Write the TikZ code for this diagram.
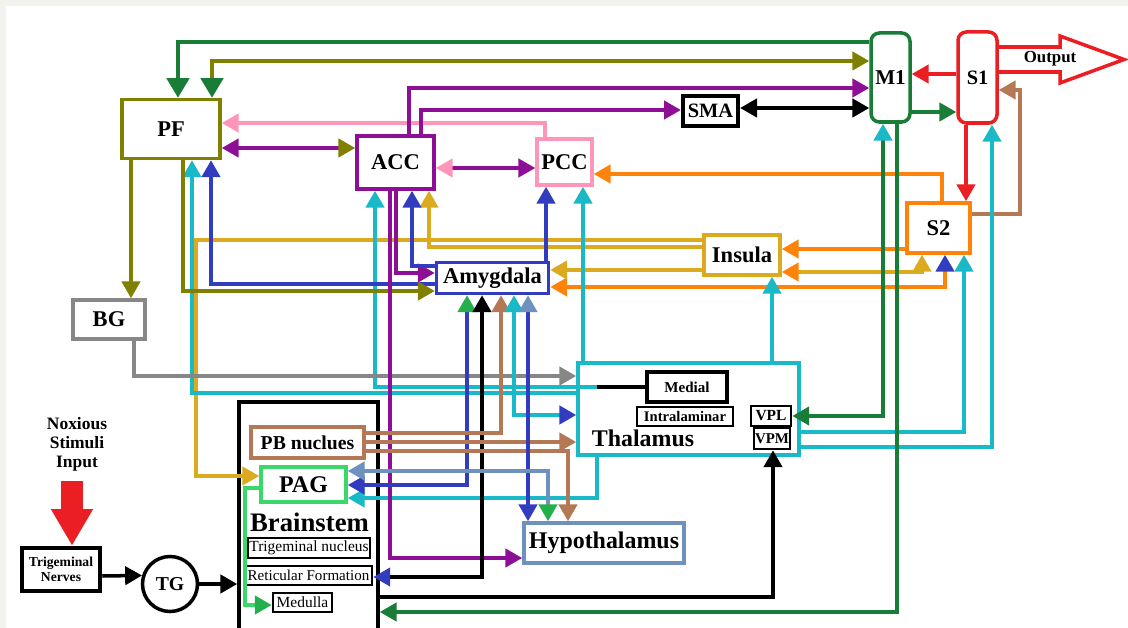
\documentclass[tikz,border=0pt]{standalone}
\usepackage{fontspec}
\setmainfont{Liberation Serif}
\usetikzlibrary{arrows.meta,positioning,shapes.geometric}
\definecolor{bgc}{RGB}{242,242,238}
\definecolor{dkgreen}{RGB}{25,125,55}
\definecolor{olivec}{RGB}{128,128,0}
\definecolor{purp}{RGB}{140,15,150}
\definecolor{pinkc}{RGB}{255,150,185}
\definecolor{bluec}{RGB}{50,60,190}
\definecolor{cyanc}{RGB}{25,185,200}
\definecolor{goldc}{RGB}{220,170,30}
\definecolor{orangec}{RGB}{255,130,10}
\definecolor{redc}{RGB}{235,30,35}
\definecolor{brownc}{RGB}{180,120,85}
\definecolor{grayc}{RGB}{135,135,135}
\definecolor{lgreen}{RGB}{35,175,75}
\definecolor{pagc}{RGB}{60,215,105}
\definecolor{steel}{RGB}{110,145,190}

\begin{document}
\begin{tikzpicture}[
  x=0.025cm, y=-0.025cm,
  line width=2.5pt,
  tri/.tip={Triangle[length=12pt,width=13pt]},
  region/.style={draw,fill=white,line width=2.5pt,inner sep=0pt,
                 font=\bfseries\fontsize{16}{18}\selectfont},
  part/.style={draw=black,fill=white,line width=1.9pt,inner sep=0pt,
               font=\fontsize{11}{12}\selectfont}
]
  \useasboundingbox (0,0) rectangle (1128,628);
  \fill[bgc] (0,0) rectangle (1128,628);
  \fill[white] (6,6) rectangle (1128,628);

  \node[region,draw=olivec,minimum width=2.45cm,minimum height=1.475cm] (PF) at (171,129) {PF};
  \node[region,draw=grayc,minimum width=1.8cm,minimum height=0.975cm] (BG) at (109,319.5) {BG};
  \node[region,draw=purp,minimum width=1.925cm,minimum height=1.325cm] (ACC) at (395.5,162.5) {ACC};
  \node[region,draw=pinkc,minimum width=1.375cm,minimum height=1.15cm] (PCC) at (564.5,162) {PCC};
  \node[region,draw=black,line width=3pt,minimum width=1.375cm,minimum height=0.75cm,
        font=\bfseries\fontsize{14.5}{16}\selectfont] (SMA) at (710.5,111) {SMA};
  \node[region,draw=bluec,minimum width=2.8cm,minimum height=0.775cm] (Amyg) at (492.5,278) {Amygdala};
  \node[region,draw=goldc,minimum width=1.9cm,minimum height=1cm] (Insula) at (742,255) {Insula};
  \node[region,draw=orangec,minimum width=1.575cm,minimum height=1.25cm] (S2) at (938.5,228) {S2};
  \node[region,draw=dkgreen,rounded corners=6pt,minimum width=0.975cm,minimum height=2.225cm,
        font=\bfseries\fontsize{15}{17}\selectfont] (M1) at (890.5,77.5) {M1};
  \node[region,draw=redc,rounded corners=6pt,minimum width=0.975cm,minimum height=2.275cm,
        font=\bfseries\fontsize{14.5}{16}\selectfont] (S1) at (977.5,77.5) {S1};

  \node[region,draw=cyanc,minimum width=5.525cm,minimum height=2.3cm] (Thal) at (688.5,409) {};
  \node[font=\bfseries\fontsize{17}{19}\selectfont] (thaltxt) at (643,438) {Thalamus};
  \node[part,line width=3pt,minimum width=2cm,minimum height=0.75cm,
        font=\bfseries\fontsize{10.7}{12}\selectfont] (Medial) at (687,387) {Medial};
  \node[part,minimum width=2.4cm,minimum height=0.475cm,font=\bfseries\fontsize{10.4}{12}\selectfont]
        (Intra) at (685,416.5) {Intralaminar};
  \node[part,minimum width=1cm,minimum height=0.5cm,font=\bfseries\fontsize{11}{12}\selectfont]
        (VPL) at (771,416) {VPL};
  \node[part,minimum width=0.9cm,minimum height=0.525cm,font=\bfseries\fontsize{10.6}{12}\selectfont]
        (VPM) at (772,438.5) {VPM};
  \node[region,draw=steel,minimum width=4cm,minimum height=1cm,
        font=\bfseries\fontsize{17}{19}\selectfont] (Hypo) at (604,543) {Hypothalamus};

  \node[region,draw=black,minimum width=3.475cm,minimum height=5.8cm] (Brainstem) at (308.5,518) {};
  \node[font=\bfseries\fontsize{19}{21}\selectfont] (bstxt) at (309.5,522) {Brainstem};
  \node[region,draw=brownc,minimum width=2.825cm,minimum height=0.775cm,
        font=\bfseries\fontsize{14}{16}\selectfont] (PB) at (307.5,442.5) {PB nuclues};
  \node[region,draw=pagc,minimum width=2.125cm,minimum height=0.875cm,
        font=\bfseries\fontsize{17}{19}\selectfont] (PAG) at (303.5,484.5) {PAG};
  \node[part,minimum width=3.05cm,minimum height=0.5cm] (TrigNuc) at (309,548) {Trigeminal nucleus};
  \node[part,minimum width=3.175cm,minimum height=0.475cm,font=\fontsize{10.7}{12}\selectfont]
        (Retic) at (308.5,575.5) {Reticular Formation};
  \node[part,minimum width=1.475cm,minimum height=0.475cm] (Medulla) at (302.5,602.5) {Medulla};

  \node[region,draw=black,line width=3.2pt,minimum width=1.95cm,minimum height=1.075cm,align=center,
        font=\bfseries\fontsize{9.7}{11}\selectfont] (TrigN) at (61,569.5) {Trigeminal\\Nerves};
  \node[region,circle,draw=black,minimum size=1.375cm,
        font=\bfseries\fontsize{14}{16}\selectfont] (TG) at (170,584) {TG};
  \node[align=center,font=\bfseries\fontsize{12.4}{13.6}\selectfont]
        (Nox) at (77,444) {Noxious\\Stimuli\\Input};

  % cortex
  \draw[dkgreen,-{tri[length=14pt,width=16pt]}] (M1.west |- 0,42) -- (178,42) -- (PF.north -| 178,0);
  \draw[olivec,{tri[length=14pt,width=16pt,color=dkgreen]}-{tri}] (PF.north -| 212,0) -- (212,61) -- (M1.west |- 0,61);
  \draw[pinkc,-{tri}] (PCC.north -| 545,0) -- (545,123) -- (PF.east |- 0,123);
  \draw[purp,{tri}-{tri[color=olivec]}] (PF.east |- 0,148) -- (ACC.west |- 0,148);
  \draw[purp,-{tri}] (ACC.north -| 409,0) -- (409,88) -- (M1.west |- 0,88);
  \draw[purp,-{tri}] (ACC.north -| 421,0) -- (421,110) -- (SMA.west |- 0,110);
  \draw[black,{tri}-{tri}] (SMA.east |- 0,108) -- (M1.west |- 0,108);
  \draw[redc,-{tri}] (S1.west |- 0,74) -- (M1.east |- 0,74);
  \draw[dkgreen,-{tri}] (M1.east |- 0,112) -- (S1.west |- 0,112);
  \draw[redc,-{tri}] (S1.south -| 966,0) -- (S2.north -| 966,0);
  \draw[brownc,-{tri}] (S2.east |- 0,214) -- (1020,214) -- (1020,90) -- (S1.east |- 0,90);
  \draw[purp,{tri[color=pinkc]}-{tri}] (ACC.east |- 0,168) -- (PCC.west |- 0,168);

  % S2 and insula
  \draw[orangec,-{tri}] (S2.north -| 942,0) -- (942,174) -- (PCC.east |- 0,174);
  \draw[orangec,-{tri}] (S2.west |- 0,249) -- (Insula.east |- 0,249);
  \draw[goldc,{tri}-{tri[color=orangec]}] (S2.south -| 922,0) -- (922,272) -- (Insula.east |- 0,272);
  \draw[orangec,{tri[color=bluec]}-{tri}] (S2.south -| 945,0) -- (945,287) -- (Amyg.east |- 0,287);
  \draw[goldc,-{tri}] (Insula.west |- 0,270) -- (Amyg.east |- 0,270);
  \draw[goldc,-{tri}] (Insula.west |- 0,247) -- (429,247) -- (ACC.south -| 429,0);
  \draw[goldc,-{tri}] (Insula.west |- 0,240) -- (196,240) -- (196,476) -- (PAG.west |- 0,476);

  % thalamus
  \draw[cyanc,-{tri}] (Thal.east |- 0,447) -- (992,447) -- (S1.south -| 992,0);
  \draw[cyanc,-{tri}] (Thal.east |- 0,432) -- (964,432) -- (S2.south -| 964,0);
  \draw[dkgreen,{tri}-{tri[color=cyanc]}] (VPL.east) -- (883,416) -- (M1.south -| 883,0);
  \draw[dkgreen,-{tri}] (M1.south -| 897,0) -- (897,612) -- (Brainstem.east |- 0,612);
  \draw[cyanc,-{tri}] (Thal.north -| 772,0) -- (Insula.south -| 772,0);
  \draw[cyanc,-{tri}] (Thal.north -| 583,0) -- (PCC.south -| 583,0);
  \draw[cyanc,-{tri}] (Thal.west |- 0,393) -- (192,393) -- (PF.south -| 192,0);
  \draw[black] (Medial.west) -- (597,387) coordinate (mj);
  \draw[cyanc,-{tri}] (mj) -- (375,387) -- (ACC.south -| 375,0);
  \draw[cyanc,-{tri}] (Thal.south -| 597,0) -- (597,498) -- (PAG.east |- 0,498);

  % PF, BG, amygdala
  \draw[bluec,-{tri}] (Amyg.west |- 0,284) -- (211,284) -- (PF.south -| 211,0);
  \draw[olivec,-{tri}] (PF.south -| 183,0) -- (183,291) -- (Amyg.west |- 0,291);
  \draw[olivec,-{tri}] (PF.south -| 131,0) -- (BG.north -| 131,0);
  \draw[grayc,-{tri}] (BG.south -| 134,0) -- (134,376) -- (Thal.west |- 0,376);
  \draw[purp,-{tri}] (ACC.south -| 396,0) -- (396,273) -- (Amyg.west |- 0,273);
  \draw[purp,-{tri}] (ACC.south -| 390,0) -- (390,558) -- (Hypo.west |- 0,558);
  \draw[bluec,-{tri}] (Amyg.west |- 0,266) -- (412,266) -- (ACC.south -| 412,0);
  \draw[bluec,-{tri}] (Amyg.north -| 546,0) -- (PCC.south -| 546,0);

  % brainstem and hypothalamus
  \draw[bluec,{tri}-{tri[color=lgreen]}] (PAG.east |- 0,485) -- (467,485) -- (Amyg.south -| 467,0);
  \draw[black,{tri[color=bluec]}-{tri}] (Retic.east |- 0,577) -- (482,577) -- (Amyg.south -| 482,0);
  \draw[brownc,-{tri}] (PB.east |- 0,433) -- (501,433) -- (Amyg.south -| 501,0);
  \draw[brownc,-{tri}] (PB.east |- 0,442) -- (Thal.west |- 0,442);
  \draw[brownc,-{tri}] (PB.east |- 0,451) -- (568,451) -- (Hypo.north -| 568,0);
  \draw[cyanc,{tri}-{tri[color=bluec]}] (Amyg.south -| 514,0) -- (514,415) -- (Thal.west |- 0,415);
  \draw[bluec,{tri[color=steel]}-{tri}] (Amyg.south -| 528,0) -- (Hypo.north -| 528,0);
  \draw[steel,{tri}-{tri[color=lgreen]}] (PAG.east |- 0,471) -- (548,471) -- (Hypo.north -| 548,0);
  \draw[pagc,-{tri[color=lgreen]}] (PAG.west |- 0,488) -- (245,488) -- (245,605) -- (Medulla.west |- 0,605);

  % input path
  \draw[redc,line width=15pt,-{Triangle[length=26pt,width=28pt]}] (Nox.south -| 72,0) ++(0,4) -- (TrigN.north -| 72,0);
  \draw[black,-{tri}] (TrigN.east |- 0,576) -- (TG.163);
  \draw[black,-{tri}] (TG) -- (Brainstem.west |- TG);
  \draw[black,-{tri}] (Brainstem.east |- 0,597) -- (773,597) -- (VPM.south -| 773,0);

  % output
  \draw[redc] (S1.east |- 0,47) -- (1060,47) -- (1060,36) -- (1124,59.5)
              -- (1060,83) -- (1060,72) -- (S1.east |- 0,72);
  \node[font=\bfseries\fontsize{12}{14}\selectfont] (out) at (1050,59) {Output};
\end{tikzpicture}
\end{document}
